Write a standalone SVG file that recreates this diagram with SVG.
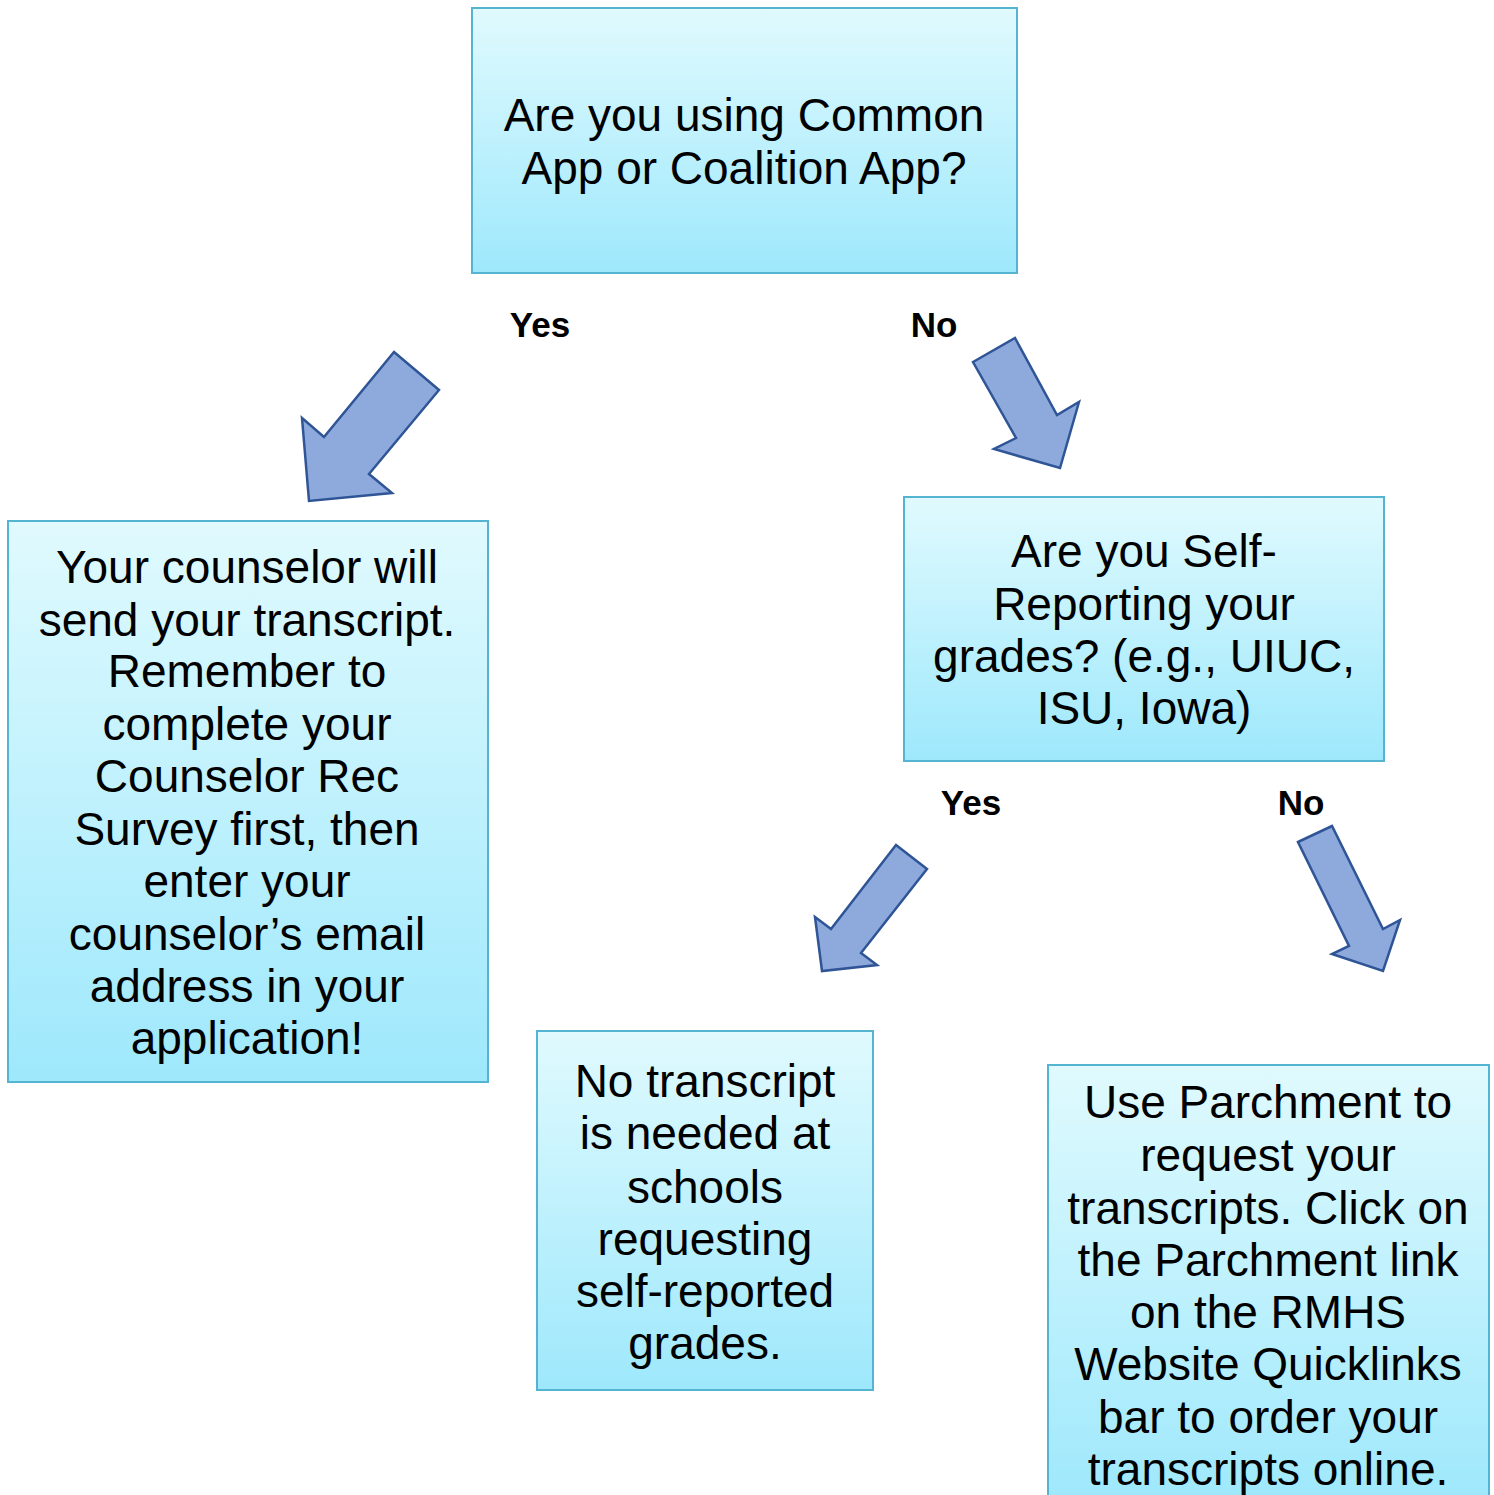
<svg xmlns="http://www.w3.org/2000/svg" width="1494" height="1495" viewBox="0 0 1494 1495">
<defs>
<linearGradient id="g" x1="0" y1="0" x2="0" y2="1">
<stop offset="0" stop-color="#e0fafe"/>
<stop offset="1" stop-color="#9ee8fc"/>
</linearGradient>
<style>
.box{fill:url(#g);stroke:#55b4d2;stroke-width:2}
.t{font-family:"Liberation Sans",Arial,sans-serif;font-size:46px;fill:#000;text-anchor:middle}
.lbl{font-family:"Liberation Sans",Arial,sans-serif;font-size:35px;font-weight:bold;fill:#000;text-anchor:middle}
.arr{fill:#8eaadc;stroke:#2f5597;stroke-width:2.5;stroke-linejoin:miter}
</style>
</defs>
<rect width="1494" height="1495" fill="#fff"/>
<g id="q1">
<rect class="box" x="472" y="8" width="545" height="265"/>
<text class="t" x="744" y="131">Are you using Common</text>
<text class="t" x="744" y="184">App or Coalition App?</text>
</g>
<g id="counselor">
<rect class="box" x="8" y="521" width="480" height="561"/>
<text class="t" x="247" y="583">Your counselor will</text>
<text class="t" x="247" y="636">send your transcript.</text>
<text class="t" x="247" y="687">Remember to</text>
<text class="t" x="247" y="740">complete your</text>
<text class="t" x="247" y="792">Counselor Rec</text>
<text class="t" x="247" y="845">Survey first, then</text>
<text class="t" x="247" y="897">enter your</text>
<text class="t" x="247" y="950">counselor’s email</text>
<text class="t" x="247" y="1002">address in your</text>
<text class="t" x="247" y="1054">application!</text>
</g>
<g id="q2">
<rect class="box" x="904" y="497" width="480" height="264"/>
<text class="t" x="1144" y="567">Are you Self-</text>
<text class="t" x="1144" y="620">Reporting your</text>
<text class="t" x="1144" y="672">grades? (e.g., UIUC,</text>
<text class="t" x="1144" y="724">ISU, Iowa)</text>
</g>
<g id="selfreport">
<rect class="box" x="537" y="1031" width="336" height="359"/>
<text class="t" x="705" y="1097">No transcript</text>
<text class="t" x="705" y="1149">is needed at</text>
<text class="t" x="705" y="1203">schools</text>
<text class="t" x="705" y="1255">requesting</text>
<text class="t" x="705" y="1307">self-reported</text>
<text class="t" x="705" y="1359">grades.</text>
</g>
<g id="parchment">
<rect class="box" x="1048" y="1065" width="441" height="440"/>
<text class="t" x="1268" y="1118">Use Parchment to</text>
<text class="t" x="1268" y="1171">request your</text>
<text class="t" x="1268" y="1224">transcripts. Click on</text>
<text class="t" x="1268" y="1276">the Parchment link</text>
<text class="t" x="1268" y="1328">on the RMHS</text>
<text class="t" x="1268" y="1380">Website Quicklinks</text>
<text class="t" x="1268" y="1433">bar to order your</text>
<text class="t" x="1268" y="1485">transcripts online.</text>
</g>
<g id="connectors">
<polygon class="arr" points="394,352 439,390 369,474 392,493 309,501 302,418 324,437"/>
<polygon class="arr" points="973,362 1015,338 1057,415 1079,402 1060,468 994,449 1016,438"/>
<polygon class="arr" points="896,845 927,869 861,953 877,965 822,971 815,917 831,929"/>
<polygon class="arr" points="1298,842 1332,826 1383,929 1400,920 1383,971 1332,954 1349,946"/>
<text class="lbl" x="540" y="337">Yes</text>
<text class="lbl" x="934" y="337">No</text>
<text class="lbl" x="971" y="815">Yes</text>
<text class="lbl" x="1301" y="815">No</text>
</g>
</svg>
